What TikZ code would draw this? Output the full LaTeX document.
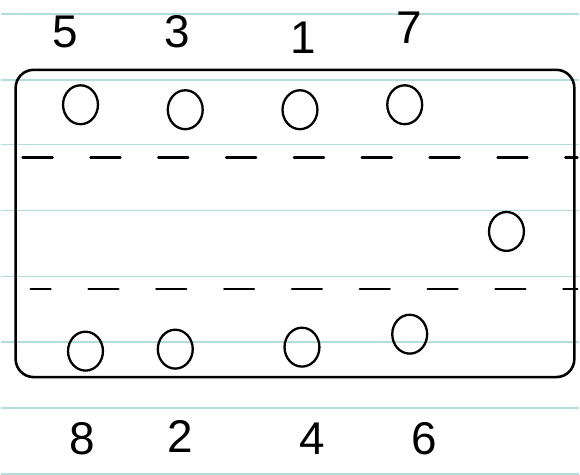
\documentclass[tikz,border=0pt]{standalone}
\usepackage{fontspec}
\setmainfont{Liberation Sans}
\usetikzlibrary{shapes.geometric,positioning}

\definecolor{ruleblue}{RGB}{180,220,220}

\begin{document}
\begin{tikzpicture}[x=1pt,y=-1pt,
	seat/.style={ellipse, draw=black, line width=2.3pt, minimum width=35pt, minimum height=39pt, inner sep=0pt},
	seatno/.style={font=\fontsize{46}{46}\selectfont, inner sep=0pt},
	rowline/.style={line width=2.4pt, line cap=round, dash pattern=on 30pt off 38pt}]

	% paper
	\fill[white] (0,0) rectangle (580,476);
	\foreach \y in {14,80,145,211,277,343,409,475}
		\draw[ruleblue, line width=1.4pt] (0,\y) -- (580,\y);

	% outline of the table
	\draw[line width=2.6pt, rounded corners=18pt] (15,70) rectangle (575,378);

	% dashed lines
	\draw[rowline] (22,158) -- (578,158);
	\draw[rowline, dash phase=10pt] (30,290) -- (578,290);

	% top row
	\node[seat] (s5) at (80,105) {};
	\node[seat] (s3) at (185,110) {};
	\node[seat] (s1) at (300,110) {};
	\node[seat] (s7) at (405,105) {};

	% end seat
	\node[seat] (se) at (507,232) {};

	% bottom row
	\node[seat] (s8) at (85,352) {};
	\node[seat] (s2) at (175,350) {};
	\node[seat] (s4) at (302,348) {};
	\node[seat] (s6) at (410,335) {};

	% numbers
	\node[seatno] (n5) at (65,32) {5};
	\node[seatno] (n3) at (177,32) {3};
	\node[seatno] (n1) at (303,38) {1};
	\node[seatno] (n7) at (410,28) {7};
	\node[seatno] (n8) at (82,440) {8};
	\node[seatno] (n2) at (180,438) {2};
	\node[seatno] (n4) at (312,440) {4};
	\node[seatno] (n6) at (425,440) {6};
\end{tikzpicture}
\end{document}
